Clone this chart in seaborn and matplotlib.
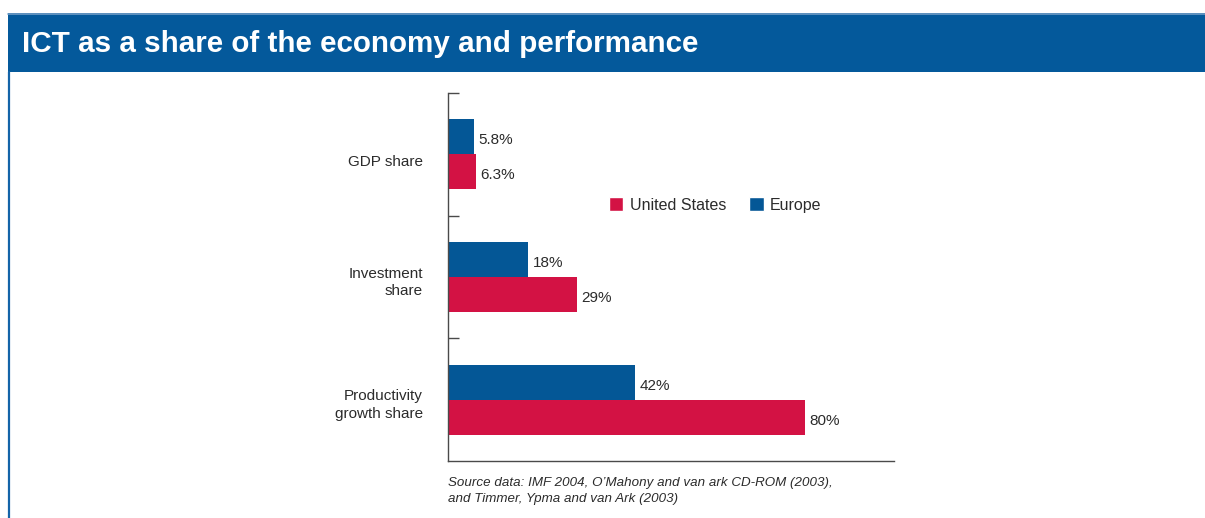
import matplotlib
matplotlib.use("Agg")
import matplotlib.pyplot as plt
from matplotlib.patches import Rectangle, Patch
from matplotlib.lines import Line2D
from matplotlib.transforms import ScaledTranslation
import pandas as pd
import seaborn as sns

# Categories and shares (%) of ICT by region
categories = ["GDP share", "Investment\nshare", "Productivity\ngrowth share"]
europe = [5.8, 18, 42]
united_states = [6.3, 29, 80]
regions = ["Europe", "United States"]
legend_order = ["United States", "Europe"]
title = "ICT as a share of the economy and performance"
source = ("Source data: IMF 2004, O\u2019Mahony and van ark CD-ROM (2003),\n"
          "and Timmer, Ypma and van Ark (2003)")

BLUE = "#045796"
RED = "#D31244"
TEXT = "#2b2b2b"
AXIS = "#4a4a4a"

df = pd.DataFrame({
    "category": categories * 2,
    "region": ["Europe"] * 3 + ["United States"] * 3,
    "value": europe + united_states,
})

sns.set_theme(style="white")
plt.rcParams["font.family"] = ["Liberation Sans", "DejaVu Sans"]

W, H = 1205, 518
fig = plt.figure(figsize=(W / 100, H / 100), dpi=100)
fig.patch.set_facecolor("white")

# Header band and left frame line
fig.patches.append(Rectangle((8 / W, 1 - 72 / H), 1 - 8 / W, 59 / H,
                             transform=fig.transFigure, facecolor="#04599B",
                             edgecolor="none", zorder=0))
fig.add_artist(Line2D([8 / W, 1], [1 - 13.5 / H, 1 - 13.5 / H],
                      transform=fig.transFigure, color="#6f9cc6", lw=1.2))
fig.add_artist(Line2D([8.8 / W, 8.8 / W], [0, 1 - 72 / H],
                      transform=fig.transFigure, color="#1464a8", lw=1.6))
fig.text(22 / W, 1 - 44 / H, title, color="white", fontsize=21.3,
         fontweight="bold", va="center", ha="left")

ax = fig.add_axes([448 / W, 1 - 461 / H, 446 / W, 368 / H])
sns.barplot(data=df, y="category", x="value", hue="region",
            hue_order=regions, order=categories,
            palette={"Europe": BLUE, "United States": RED},
            orient="h", width=0.57, saturation=1, linewidth=0,
            ax=ax, legend=True)

for cont, vals in zip(ax.containers, [europe, united_states]):
    anns = ax.bar_label(cont, labels=[f"{v:g}%" for v in vals], padding=3,
                        fontsize=11, color=TEXT)
    for ann in anns:
        ann.xyann = (3, -2.5)

ax.set_xlim(0, 100)
ax.set_ylim(2.5, -0.5)
ax.set_xlabel("")
ax.set_ylabel("")
ax.set_xticks([])
ax.tick_params(axis="y", which="major", length=0, pad=18, labelsize=11,
               labelcolor=TEXT)
ax.set_yticks([-0.5, 0.5, 1.5], minor=True)
ax.tick_params(axis="y", which="minor", left=True, direction="in",
               length=8, width=1, color=AXIS)
# small downward nudge of the category labels (in points)
label_drop = [4.5, 1.5, 1.5]
for lbl, drop in zip(ax.get_yticklabels(), label_drop):
    lbl.set_multialignment("right")
    lbl.set_linespacing(1.33)
    lbl.set_transform(lbl.get_transform()
                      + ScaledTranslation(0, -drop / 72, fig.dpi_scale_trans))

for side in ["top", "right"]:
    ax.spines[side].set_visible(False)
for side in ["left", "bottom"]:
    ax.spines[side].set_color(AXIS)
    ax.spines[side].set_linewidth(1)

handles = [Patch(facecolor=RED), Patch(facecolor=BLUE)]
ax.legend(handles, legend_order, ncol=2, frameon=False, fontsize=11.5,
          loc="center left", bbox_to_anchor=((609 - 448) / 446, (461 - 205) / 368),
          handlelength=0.9, handleheight=0.95, handletextpad=0.4,
          columnspacing=1.45, borderpad=0, borderaxespad=0,
          labelcolor=TEXT)

fig.text(448 / W, 1 - 491 / H, source, fontsize=9.6, style="italic",
         color=TEXT, va="center", ha="left", linespacing=1.45)

fig.savefig("out.png", dpi=100)
